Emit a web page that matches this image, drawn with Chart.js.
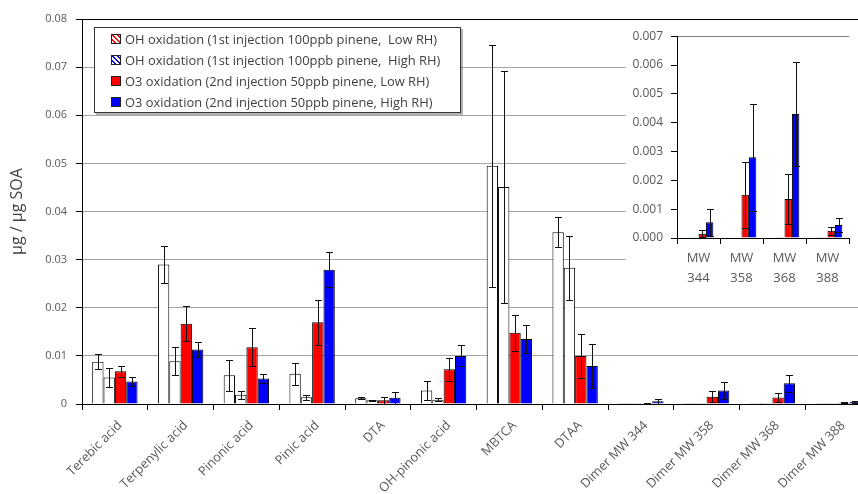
<!DOCTYPE html>
<html><head><meta charset="utf-8">
<script src="https://cdn.jsdelivr.net/npm/chart.js@4.4.1/dist/chart.umd.min.js"></script>
<style>
html,body{margin:0;padding:0;background:#fff;overflow:hidden;width:858px;height:494px;}
#wrap{position:relative;width:872px;height:494px;}
#main{position:absolute;left:0;top:0;}
#inset{position:absolute;left:626px;top:21px;background:#fff;}
#legend{position:absolute;left:94px;top:27px;width:365px;height:84px;border:1px solid #333;background:#fff;box-shadow:2px 2px 0 rgba(0,0,0,0.3);font:12.9px 'Open Sans',sans-serif;color:#404040;}
.row{height:21px;white-space:pre;padding-left:16px;display:flex;align-items:center}
.ic{width:8px;height:8px;border:1px solid #222;margin-right:4px;flex:none}
</style></head>
<body>
<div id="wrap">
<canvas id="main" width="872" height="494"></canvas>
<canvas id="inset" width="232" height="280"></canvas>
<div id="legend"></div>
</div>
<script>
const categories = ['Terebic acid','Terpenylic acid','Pinonic acid','Pinic acid','DTA','OH-pinonic acid','MBTCA','DTAA','Dimer MW 344','Dimer MW 358','Dimer MW 368','Dimer MW 388'];
const seriesNames = ['OH oxidation (1st injection 100ppb pinene,  Low RH)','OH oxidation (1st injection 100ppb pinene,  High RH)','O3 oxidation (2nd injection 50ppb pinene, Low RH)','O3 oxidation (2nd injection 50ppb pinene, High RH)'];
const ohLow     = [0.0088, 0.0290, 0.0060, 0.0063, 0.00117, 0.0028, 0.0495, 0.0357, 0.00002, 0.00002, 0.00002, 0.00001];
const ohLowErr  = [0.0015, 0.0039, 0.0032, 0.0023, 0.0002, 0.0019, 0.0251, 0.0031, 0, 0, 0, 0];
const ohHigh    = [0.0055, 0.0089, 0.0019, 0.0014, 0.00076, 0.0009, 0.0451, 0.0283, 0.00001, 0.00001, 0.00001, 0.00001];
const ohHighErr = [0.0019, 0.0029, 0.0008, 0.0005, 0.0001, 0.0003, 0.0241, 0.0066, 0, 0, 0, 0];
const o3Low     = [0.0068, 0.0167, 0.0118, 0.0170, 0.0008, 0.0072, 0.0148, 0.0100, 0.00015, 0.0015, 0.00135, 0.00025];
const o3LowErr  = [0.0011, 0.0037, 0.0040, 0.0047, 0.0007, 0.0024, 0.0037, 0.0045, 0.00012, 0.00114, 0.00087, 0.00013];
const o3High    = [0.0047, 0.0113, 0.0053, 0.0279, 0.0013, 0.0100, 0.0135, 0.0079, 0.00055, 0.0028, 0.0043, 0.00045];
const o3HighErr = [0.0010, 0.0015, 0.0010, 0.0036, 0.0012, 0.0022, 0.0029, 0.0045, 0.00047, 0.00186, 0.0018, 0.00023];
const mainTicks = [0, 0.01, 0.02, 0.03, 0.04, 0.05, 0.06, 0.07, 0.08];
const insetTicks = [0, 0.001, 0.002, 0.003, 0.004, 0.005, 0.006, 0.007];
const insetStart = 8;

const FONT = "'Open Sans', sans-serif";
Chart.defaults.font.family = FONT;
Chart.defaults.color = '#595959';

const values = [ohLow, ohHigh, o3Low, o3High];
const errs = [ohLowErr, ohHighErr, o3LowErr, o3HighErr];
const fills = ['#ffffff', '#ffffff', '#ff0000', '#0000ff'];

function makeDatasets(from) {
  return values.map((v, i) => ({
    label: seriesNames[i],
    data: v.slice(from),
    errors: errs[i].slice(from),
    backgroundColor: fills[i],
    borderColor: '#000',
    borderWidth: 1,
    categoryPercentage: 0.69,
    barPercentage: 1.0
  }));
}

const errorBars = {
  id: 'errorBars',
  afterDatasetsDraw(chart) {
    const ctx = chart.ctx;
    const ys = chart.scales.y;
    ctx.save();
    ctx.strokeStyle = '#111';
    ctx.lineWidth = 1;
    chart.data.datasets.forEach((ds, i) => {
      const meta = chart.getDatasetMeta(i);
      meta.data.forEach((el, j) => {
        const e = ds.errors[j];
        if (!e) return;
        const v = ds.data[j];
        const x = Math.round(el.x) + 0.5;
        const y1 = Math.round(ys.getPixelForValue(v + e)) + 0.5;
        const y2 = Math.round(ys.getPixelForValue(Math.max(v - e, 0))) + 0.5;
        const cw = 3.5;
        ctx.beginPath();
        ctx.moveTo(x, y1); ctx.lineTo(x, y2);
        ctx.moveTo(x - cw, y1); ctx.lineTo(x + cw, y1);
        if (v - e > 0) { ctx.moveTo(x - cw, y2); ctx.lineTo(x + cw, y2); }
        ctx.stroke();
      });
    });
    ctx.restore();
  }
};

new Chart(document.getElementById('main'), {
  type: 'bar',
  data: { labels: categories, datasets: makeDatasets(0) },
  options: {
    responsive: false, devicePixelRatio: 1, animation: false,
    layout: { padding: { left: 0, top: 19, right: 1, bottom: 0 } },
    plugins: { legend: { display: false }, tooltip: { enabled: false } },
    scales: {
      x: {
        grid: { drawOnChartArea: false, drawTicks: true, tickLength: 6, tickColor: '#000', offset: true },
        border: { color: '#000', width: 1 },
        ticks: { minRotation: 45, maxRotation: 45, autoSkip: false, font: { size: 12.8 }, color: '#595959', padding: 8, labelOffset: 5 },
        afterFit(s) { s.height = 90; }
      },
      y: {
        min: 0, max: 0.08,
        afterBuildTicks(s) { s.ticks = mainTicks.map(v => ({ value: v })); },
        grid: { color: c => (c.tick && c.tick.value === 0.08 ? '#000' : '#a6a6a6'), tickLength: 6, tickColor: '#000' },
        border: { color: '#000', width: 1 },
        ticks: { font: { size: 11 }, color: '#595959', padding: 9, callback: v => (v === 0 ? '0' : v.toFixed(2)) },
        title: { display: true, text: 'µg / µg SOA', font: { size: 16 }, color: '#404040', padding: { top: 8, bottom: 0 } },
        afterFit(s) { s.width = 82; }
      }
    }
  },
  plugins: [errorBars]
});

new Chart(document.getElementById('inset'), {
  type: 'bar',
  data: { labels: categories.slice(insetStart).map(c => ['MW', c.split(' ').pop()]), datasets: makeDatasets(insetStart) },
  options: {
    responsive: false, devicePixelRatio: 1, animation: false,
    layout: { padding: { left: 0, top: 13, right: 9, bottom: 0 } },
    plugins: { legend: { display: false }, tooltip: { enabled: false } },
    scales: {
      x: {
        grid: { drawOnChartArea: false, drawTicks: true, tickLength: 6, tickColor: '#000', offset: true },
        border: { color: '#000', width: 1 },
        ticks: { maxRotation: 0, autoSkip: false, font: { size: 13, lineHeight: 1.5 }, color: '#595959', padding: 5 },
        afterFit(s) { s.height = 63; }
      },
      y: {
        min: 0, max: 0.007,
        afterBuildTicks(s) { s.ticks = insetTicks.map(v => ({ value: v })); },
        grid: { color: c => (c.tick && c.tick.value === 0.007 ? '#808080' : 'rgba(0,0,0,0)'), tickLength: 6, tickColor: '#000' },
        border: { color: '#000', width: 1 },
        ticks: { font: { size: 12 }, color: '#595959', padding: 8, callback: v => v.toFixed(3) },
        afterFit(s) { s.width = 51; }
      }
    }
  },
  plugins: [errorBars]
});

const iconBg = [
  'repeating-linear-gradient(45deg,#fff 0 1.5px,#f00 1.5px 3.5px)',
  'repeating-linear-gradient(45deg,#fff 0 1.5px,#00f 1.5px 3.5px)',
  '#ff0000', '#0000ff'
];
const leg = document.getElementById('legend');
seriesNames.forEach((n, i) => {
  const r = document.createElement('div'); r.className = 'row';
  const ic = document.createElement('span'); ic.className = 'ic'; ic.style.background = iconBg[i];
  const t = document.createElement('span'); t.textContent = n;
  r.appendChild(ic); r.appendChild(t); leg.appendChild(r);
});
</script>
</body></html>
